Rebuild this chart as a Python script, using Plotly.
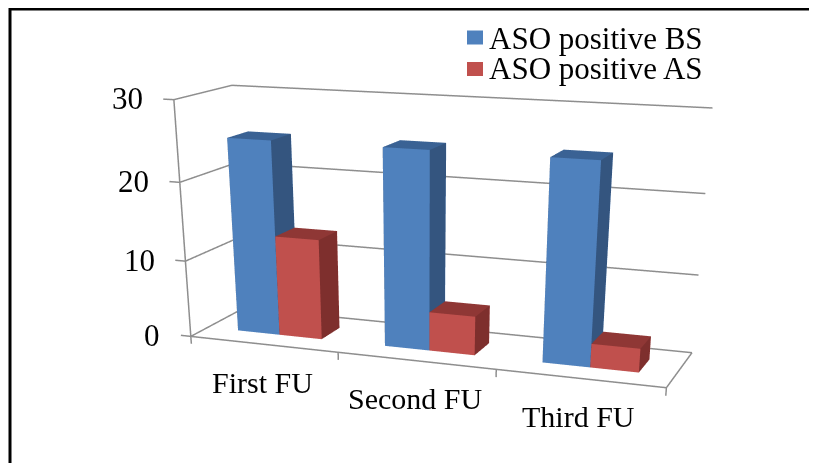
import plotly.graph_objects as go

categories = ["First FU", "Second FU", "Third FU"]
aso_bs = [25, 25, 25]
aso_as = [13, 5, 3]
z_ticks = [0, 10, 20, 30]
series_names = ["ASO positive BS", "ASO positive AS"]

FIG_W, FIG_H = 809, 1215          # tall view: gives the weak perspective of the original
FONT = "Liberation Serif"
BLUE = dict(front="#4F81BD", side="#34557F", top="#3A6294")
RED = dict(front="#C0504D", side="#7E2F2D", top="#8F3735")

BAR_START, BAR_W, DEPTH0, DEPTH1 = 0.21318, 0.28891, 0.30921, 0.68744
FACES = [(0, 1, 5), (0, 5, 4), (1, 2, 6), (1, 6, 5), (4, 5, 6), (4, 6, 7),
         (2, 3, 7), (2, 7, 6), (3, 0, 4), (3, 4, 7), (0, 2, 1), (0, 3, 2)]
KINDS = ["front", "front", "side", "side", "top", "top",
         "front", "front", "side", "side", "top", "top"]


def bars(values, slot, colours, name):
    X, Y, Z, I, J, K, C = [], [], [], [], [], [], []
    for n, v in enumerate(values):
        x0 = n + BAR_START + slot * BAR_W
        x1 = x0 + BAR_W
        b = len(X)
        X += [x0, x1, x1, x0, x0, x1, x1, x0]
        Y += [DEPTH0, DEPTH0, DEPTH1, DEPTH1] * 2
        Z += [0] * 4 + [v] * 4
        for (p, q, r), kind in zip(FACES, KINDS):
            I.append(b + p)
            J.append(b + q)
            K.append(b + r)
            C.append(colours[kind])
    return go.Mesh3d(x=X, y=Y, z=Z, i=I, j=J, k=K, facecolor=C, name=name,
                     flatshading=True, hoverinfo="skip",
                     lighting=dict(ambient=1, diffuse=0, specular=0, fresnel=0))


fig = go.Figure()
fig.add_trace(bars(aso_bs, 0, BLUE, series_names[0]))
fig.add_trace(bars(aso_as, 1, RED, series_names[1]))

# Walls, floor edges and tick marks
n_cat = len(categories)
z_top = max(z_ticks)
lx, ly, lz = [], [], []


def seg(*points):
    for q in points:
        lx.append(q[0])
        ly.append(q[1])
        lz.append(q[2])
    lx.append(None)
    ly.append(None)
    lz.append(None)


for v in z_ticks:
    seg((-0.07, 0, v), (0, 0, v), (0, 1, v), (n_cat, 1, v))
seg((0, 0, 0), (0, 0, z_top))
seg((0, 0, -1), (0, 0, 0), (n_cat, 0, 0), (n_cat, 0, -1))
seg((n_cat, 0, 0), (n_cat, 1, 0))
for n in range(1, n_cat):
    seg((n, 0, 0), (n, 0, -1))
fig.add_trace(go.Scatter3d(x=lx, y=ly, z=lz, mode="lines", connectgaps=False,
                           line=dict(color="#8E8E8E", width=3), hoverinfo="skip"))

annotations = [dict(x=0, y=0, z=v, text=str(v), showarrow=False, xanchor="right",
                    xshift=-28, yshift=1, font=dict(family=FONT, size=31, color="black"))
               for v in z_ticks]
annotations += [dict(x=n + 0.5, y=0, z=0, text=t, showarrow=False, xanchor="center",
                     yshift=-38, font=dict(family=FONT, size=30, color="black"))
                for n, t in enumerate(categories)]

axis = dict(visible=False, showspikes=False)
pad_x, pad_z = 0.1, 2
fig.update_layout(
    width=FIG_W, height=FIG_H, margin=dict(l=0, r=0, t=0, b=0),
    showlegend=False, paper_bgcolor="white", hovermode=False,
    scene=dict(
        domain=dict(x=[17.5 / FIG_W, 1], y=[0, 1]),
        aspectmode="manual",
        aspectratio=dict(x=0.25716 * (n_cat + 2 * pad_x) / n_cat, y=0.06310 * 1.04,
                         z=0.12036 * (z_top + 2 * pad_z) / z_top),
        camera=dict(eye=dict(x=0.25578, y=-0.70899, z=0.15503),
                    center=dict(x=0.02736, y=-0.09591, z=-0.16987),
                    up=dict(x=-0.00063, y=0.00001, z=1),
                    projection=dict(type="perspective")),
        xaxis=dict(range=[-pad_x, n_cat + pad_x], **axis),
        yaxis=dict(range=[-0.02, 1.02], **axis),
        zaxis=dict(range=[-pad_z, z_top + pad_z], **axis),
        annotations=annotations,
    ),
)

# Legend, placed by hand because the rows are tighter than a native legend allows
for name, colour, swatch_y, text_y in [(series_names[0], BLUE["front"], 29.5, 31),
                                       (series_names[1], RED["front"], 61, 60)]:
    fig.add_shape(type="rect", xref="paper", yref="paper",
                  x0=459 / FIG_W, x1=475 / FIG_W,
                  y0=1 - (swatch_y + 7) / FIG_H, y1=1 - (swatch_y - 7) / FIG_H,
                  fillcolor=colour, line=dict(width=0))
    fig.add_annotation(text=name, xref="paper", yref="paper", x=479 / FIG_W,
                       y=1 - text_y / FIG_H, xanchor="left", yanchor="middle", showarrow=False,
                       font=dict(family=FONT, size=31, color="black"))

# Black frame, cut off by the right and bottom edges of the picture
fig.add_shape(type="rect", xref="paper", yref="paper", x0=2 / FIG_W, x1=1.05,
              y0=-0.05, y1=1 - 1 / FIG_H, line=dict(color="black", width=3))

fig.write_html("out.html")
